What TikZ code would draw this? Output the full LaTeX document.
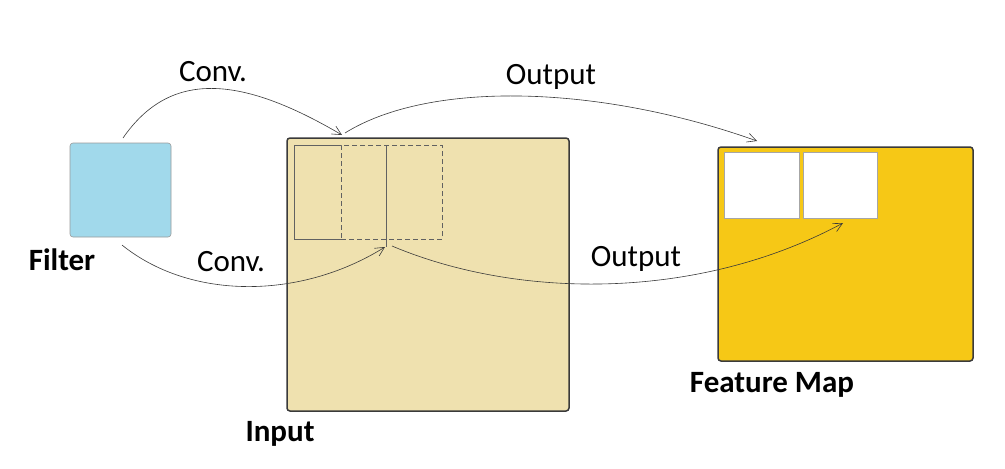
\documentclass[tikz,border=0pt]{standalone}
\usepackage{fontspec}
\setmainfont{Carlito}
\usetikzlibrary{arrows.meta}
\definecolor{filterblue}{HTML}{A1D9EB}
\definecolor{inputtan}{HTML}{EFE1AF}
\definecolor{featyellow}{HTML}{F6C816}
\definecolor{edgegrey}{HTML}{3A3A3A}
\tikzset{
  box/.style={draw=edgegrey, rounded corners=3pt, inner sep=0pt, outer sep=0pt},
  win/.style={draw=edgegrey!80, line width=0.7pt},
  cell/.style={draw=gray!70, fill=white, line width=0.8pt, inner sep=0pt, outer sep=0pt},
  conn/.style={draw=edgegrey, line width=0.6pt, -{Straight Barb[length=9pt,width=9pt,line width=0.6pt]}},
  lbl/.style={font=\fontsize{31}{36}\selectfont, anchor=base, inner sep=0pt},
  blbl/.style={font=\fontsize{31}{36}\selectfont\bfseries, anchor=base, inner sep=0pt}
}
\begin{document}
\begin{tikzpicture}[x=1pt,y=-1pt]
\useasboundingbox (0,0) rectangle (1005,469);
% boxes
\node[box, fill=filterblue, draw=gray!80, line width=0.6pt, minimum width=101pt, minimum height=94pt] (filter) at (120.5,190) {};
\node[box, fill=inputtan, line width=1.5pt, minimum width=282pt, minimum height=273pt] (input) at (428,274.5) {};
\node[box, fill=featyellow, line width=1.5pt, minimum width=255pt, minimum height=214pt] (feat) at (845.5,254) {};
% windows in input
\node[win, dashed, dash pattern=on 5pt off 3pt, inner sep=0pt, outer sep=0pt, minimum width=101pt, minimum height=94pt] (w2) at (391.5,192) {};
\coordinate (s1) at (294,145);
\coordinate (s2) at (294,239);
\coordinate (v1) at (386,145);
\coordinate (v2) at (386,247);
\draw[win] (w2.north west) -- (s1) -- (s2) -- (w2.south west);
\draw[win] (v1) -- (v2);
% cells in feature map
\node[cell, minimum width=75pt, minimum height=66pt] (c1) at (761.5,185) {};
\node[cell, minimum width=74pt, minimum height=66pt] (c2) at (840,185) {};
% labels
\node[blbl] (lfilter) at (62,270) {Filter};
\node[blbl] (linput) at (280,441) {Input};
\node[blbl] (lfeat) at (772,392) {Feature Map};
\node[lbl] (lconv1) at (213,81) {Conv.};
\node[lbl] (lconv2) at (231,271) {Conv.};
\node[lbl] (lout1) at (551,84) {Output};
\node[lbl] (lout2) at (636,266) {Output};
% connector end points
\coordinate (a1s) at (123,138);
\coordinate (a1e) at (342,135);
\coordinate (a2s) at (345,133);
\coordinate (a2e) at (757,141);
\coordinate (a3s) at (122,245);
\coordinate (a3e) at (385,247);
\coordinate (a4s) at (392,246);
\coordinate (a4e) at (843,223);
\draw[conn] (a1s) .. controls (170,70) and (240,75) .. (a1e);
\draw[conn] (a2s) .. controls (430,80) and (600,85) .. (a2e);
\draw[conn] (a3s) .. controls (190,300) and (300,300) .. (a3e);
\draw[conn] (a4s) .. controls (520,300) and (700,300) .. (a4e);
\end{tikzpicture}
\end{document}
